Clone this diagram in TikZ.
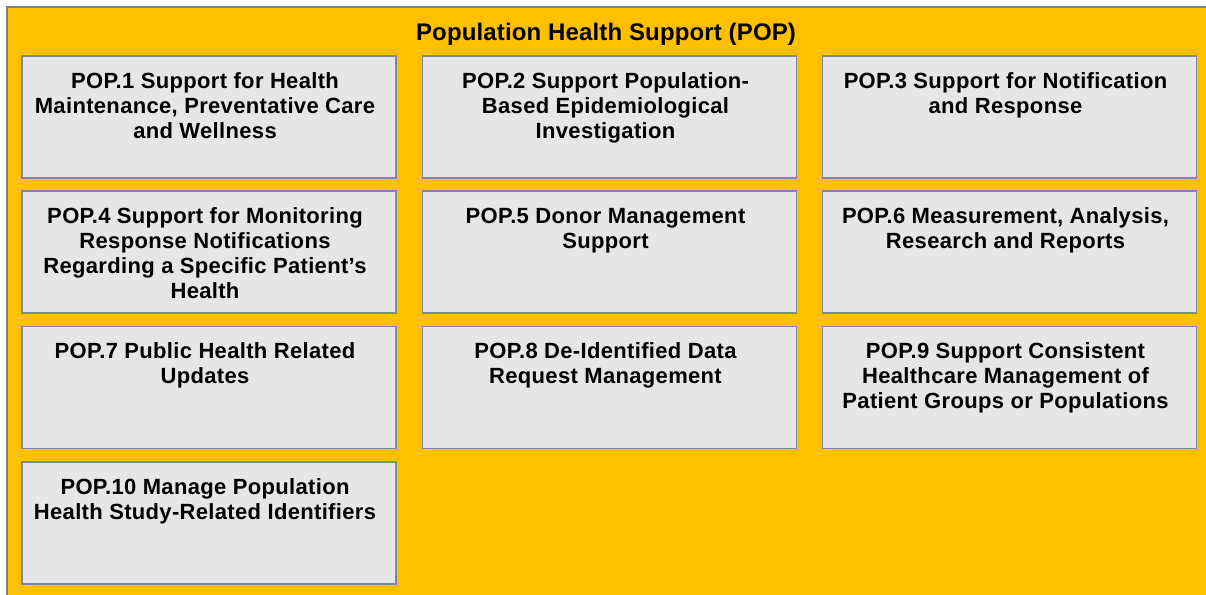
\documentclass[tikz,border=0pt]{standalone}
\usepackage{fontspec}
\setmainfont{Liberation Sans}
\newfontfamily\boxfont[LetterSpace=1.5]{Liberation Sans}
\newfontfamily\titlefont[LetterSpace=0.6]{Liberation Sans}
\definecolor{popyellow}{RGB}{255,192,0}
\definecolor{boxfill}{RGB}{230,230,230}
\definecolor{boxline}{RGB}{125,138,158}
\definecolor{outerline}{RGB}{120,128,140}
\begin{document}
\begin{tikzpicture}[x=1pt,y=-1pt,
  capbox/.style={draw=boxline, line width=1.5pt, fill=boxfill, minimum width=374pt, minimum height=122pt, inner sep=0pt},
  captxt/.style={anchor=north, align=center, inner sep=0pt, font=\boxfont\fontsize{22}{25}\selectfont\bfseries},
  titletxt/.style={anchor=base, inner sep=0pt, font=\titlefont\fontsize{24}{28}\selectfont\bfseries}]
\useasboundingbox (0,0) rectangle (1206,594);
\begin{scope}
\clip (0,0) rectangle (1206,594);
\draw[draw=outerline, line width=1.5pt, fill=popyellow] (7,7) rectangle (1220,610);
\end{scope}
\node[titletxt] (title) at (606,41) {Population Health Support (POP)};
% boxes
\node[capbox] (p1) at (209,117) {};
\node[capbox] (p2) at (609.5,117) {};
\node[capbox] (p3) at (1009.5,117) {};
\node[capbox] (p4) at (209,252) {};
\node[capbox] (p5) at (609.5,252) {};
\node[capbox] (p6) at (1009.5,252) {};
\node[capbox] (p7) at (209,387.5) {};
\node[capbox] (p8) at (609.5,387.5) {};
\node[capbox] (p9) at (1009.5,387.5) {};
\node[capbox] (p10) at (209,523) {};
% texts
\newcommand{\fl}{\rule{0pt}{18pt}}
\tikzset{txtat/.style={xshift=-4pt,yshift=-15pt}}
\node[captxt] (t1) at ([txtat]p1.north) {\fl POP.1 Support for Health\\Maintenance, Preventative Care\\and Wellness};
\node[captxt] (t2) at ([txtat]p2.north) {\fl POP.2 Support Population-\\Based Epidemiological\\Investigation};
\node[captxt] (t3) at ([txtat]p3.north) {\fl POP.3 Support for Notification\\and Response};
\node[captxt] (t4) at ([txtat]p4.north) {\fl POP.4 Support for Monitoring\\Response Notifications\\Regarding a Specific Patient’s\\Health};
\node[captxt] (t5) at ([txtat]p5.north) {\fl POP.5 Donor Management\\Support};
\node[captxt] (t6) at ([txtat]p6.north) {\fl POP.6 Measurement, Analysis,\\Research and Reports};
\node[captxt] (t7) at ([txtat]p7.north) {\fl POP.7 Public Health Related\\Updates};
\node[captxt] (t8) at ([txtat]p8.north) {\fl POP.8 De-Identified Data\\Request Management};
\node[captxt] (t9) at ([txtat]p9.north) {\fl POP.9 Support Consistent\\Healthcare Management of\\Patient Groups or Populations};
\node[captxt] (t10) at ([txtat]p10.north) {\fl POP.10 Manage Population\\Health Study-Related Identifiers};
\end{tikzpicture}
\end{document}
